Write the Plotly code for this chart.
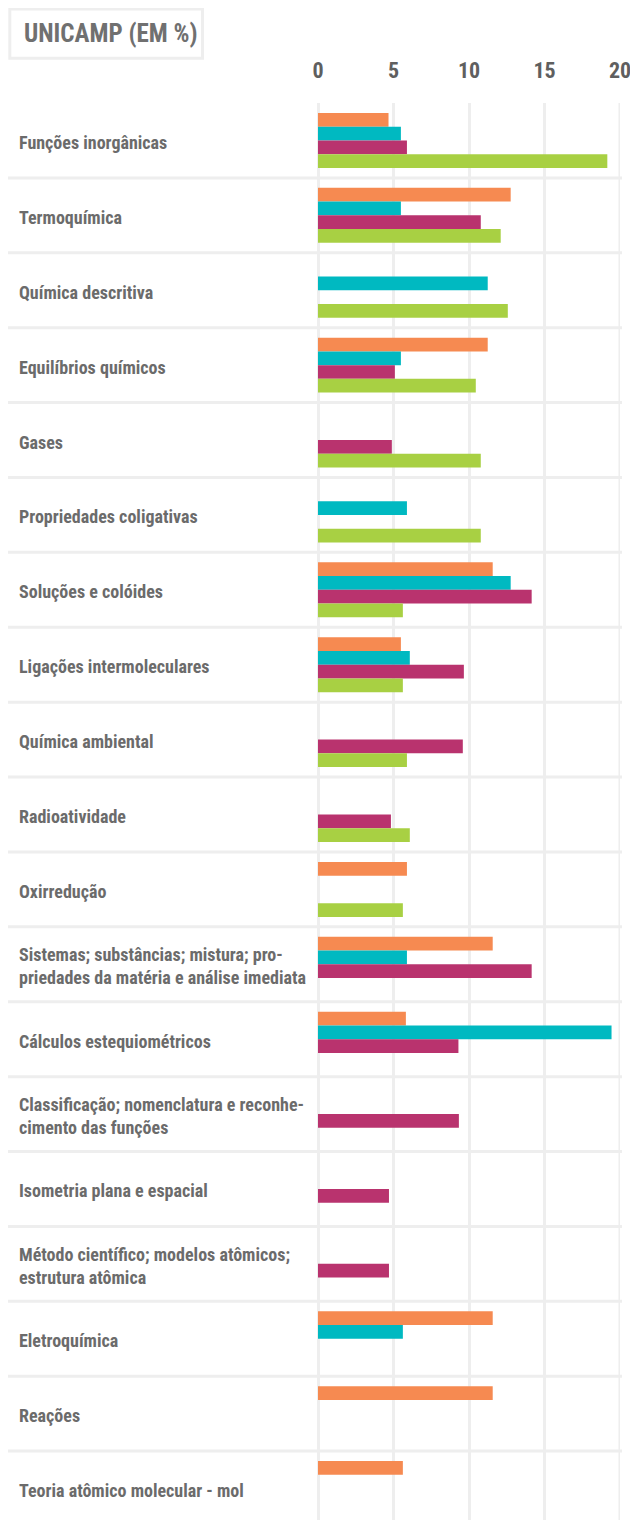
import plotly.graph_objects as go

# Topics (top to bottom) and share of questions per exam year (in %), None = topic not asked
categories = ['Funções inorgânicas', 'Termoquímica', 'Química descritiva', 'Equilíbrios químicos', 'Gases',
              'Propriedades coligativas', 'Soluções e colóides', 'Ligações intermoleculares', 'Química ambiental',
              'Radioatividade', 'Oxirredução',
              'Sistemas; substâncias; mistura; pro-<br>priedades da matéria e análise imediata',
              'Cálculos estequiométricos',
              'Classificação; nomenclatura e reconhe-<br>cimento das funções',
              'Isometria plana e espacial',
              'Método científico; modelos atômicos;<br>estrutura atômica',
              'Eletroquímica', 'Reações', 'Teoria atômico molecular - mol']

orange = [4.67, 12.76, None, 11.24, None, None, 11.57, 5.49, None, None, 5.89, 11.57, 5.82, None, None, None, 11.57, 11.57, 5.62]
teal = [5.49, 5.49, 11.24, 5.49, None, 5.89, 12.76, 6.08, None, None, None, 5.89, 19.44, None, None, None, 5.62, None, None]
magenta = [5.89, 10.78, None, 5.09, 4.89, None, 14.15, 9.66, 9.59, 4.83, None, 14.15, 9.30, 9.33, 4.70, 4.70, None, None, None]
green = [19.16, 12.10, 12.57, 10.45, 10.78, 10.78, 5.62, 5.62, 5.89, 6.08, 5.62, None, None, None, None, None, None, None, None]

x_ticks = [0, 5, 10, 15, 20]
title_text = 'UNICAMP (EM %)'

series = [(orange, '#f68a51'), (teal, '#00b9c1'), (magenta, '#b9336e'), (green, '#a8d043')]

FONT = 'Roboto Condensed, Liberation Sans Narrow, DejaVu Sans Condensed, Liberation Sans, sans-serif'
GREY = '#6b6b6b'
LINE = '#eeeeee'

# the page body has an 8px margin, so the figure is 8px smaller than the window
W, H = 630, 1512
L, R, T = 310, 18, 95

# helpers to go from figure pixels to paper coordinates
def px_x(x):
    return (x - L) / (W - L - R)

def px_y(y):
    return (H - y) / (H - T)


def main():
    fig = go.Figure()

    for vals, col in series:
        fig.add_trace(go.Bar(y=categories, x=vals, orientation='h', marker=dict(color=col, line=dict(width=0)),
                             hoverinfo='x+y'))

    # row separators
    for i in range(len(categories) - 1):
        fig.add_shape(type='line', xref='paper', yref='y', x0=px_x(0), x1=px_x(614), y0=i + 0.5, y1=i + 0.5,
                      line=dict(color=LINE, width=3), layer='below')

    # plotly drops the gridline sitting on the right edge, so draw it by hand
    fig.add_shape(type='line', xref='x', yref='paper', x0=x_ticks[-1], x1=x_ticks[-1], y0=0, y1=1,
                  line=dict(color=LINE, width=3), layer='below')

    # category labels, left aligned
    for c in categories:
        fig.add_annotation(xref='paper', yref='y', x=px_x(9), y=c, text=c, showarrow=False, xanchor='left',
                           yanchor='middle', align='left', yshift=-2,
                           font=dict(family=FONT, size=18, color=GREY, weight='bold'))

    # boxed title
    fig.add_shape(type='rect', xref='paper', yref='paper', x0=px_x(1.8), x1=px_x(194.5), y0=px_y(1.0), y1=px_y(50.3),
                  line=dict(color=LINE, width=3))
    fig.add_annotation(xref='paper', yref='paper', x=px_x(14), y=px_y(25), text=title_text, showarrow=False,
                       xanchor='left', yanchor='middle', font=dict(family=FONT, size=25, color='#707070', weight='bold'))

    fig.update_layout(width=W, height=H, margin=dict(l=L, r=R, t=T, b=0), plot_bgcolor='white', paper_bgcolor='white',
                      barmode='group', bargap=0.266, bargroupgap=0, showlegend=False,
                      xaxis=dict(side='top', range=[0, 20], tickvals=x_ticks, showgrid=True, gridcolor=LINE, gridwidth=3,
                                 zeroline=True, zerolinecolor=LINE, zerolinewidth=3, ticks='outside', ticklen=15,
                                 tickcolor='rgba(0,0,0,0)', tickfont=dict(family=FONT, size=22, color='#5f5f5f', weight='bold'),
                                 fixedrange=True),
                      yaxis=dict(range=[18.42, -0.5], showticklabels=False, showgrid=False, zeroline=False, fixedrange=True))

    fig.write_html('out.html')


if __name__ == '__main__':
    main()
